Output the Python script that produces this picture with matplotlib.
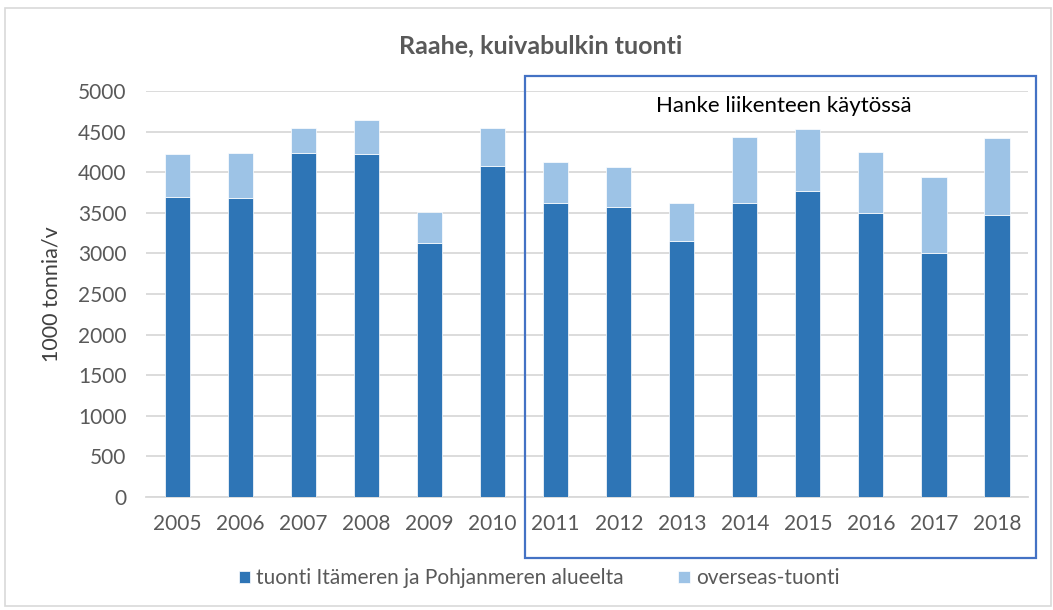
import matplotlib.pyplot as plt
from matplotlib.patches import Rectangle
from matplotlib.transforms import blended_transform_factory

# values (1000 tonnes / year)
years = ['2005', '2006', '2007', '2008', '2009', '2010', '2011',
         '2012', '2013', '2014', '2015', '2016', '2017', '2018']
baltic = [3700, 3680, 4240, 4225, 3125, 4075, 3615,
          3570, 3155, 3615, 3765, 3500, 3005, 3470]
overseas = [525, 560, 300, 415, 385, 475, 505,
            490, 460, 815, 770, 755, 935, 950]

dark = '#2E75B6'
light = '#9DC3E6'
text_col = '#595959'

plt.rcParams['font.family'] = ['Lato', 'DejaVu Sans']

fig = plt.figure(figsize=(10.53, 6.10), dpi=100)
ax = fig.add_axes([0.1387, 0.1852, 0.838, 0.6656])

x = range(len(years))
ax.bar(x, baltic, width=0.4, color=dark, edgecolor='white', linewidth=0.5,
       label='tuonti Itämeren ja Pohjanmeren alueelta', zorder=3)
ax.bar(x, overseas, bottom=baltic, width=0.4, color=light, edgecolor='white',
       linewidth=0.5, label='overseas-tuonti', zorder=3)

ax.set_xlim(-0.5, len(years) - 0.5)
ax.set_ylim(0, 5000)
ax.set_yticks(range(0, 5001, 500))
ax.set_xticks(list(x))
ax.set_xticklabels(years)
ax.yaxis.grid(True, color='#D9D9D9', linewidth=1.3, zorder=0)
ax.tick_params(axis='both', length=0, labelsize=15, colors=text_col)
ax.tick_params(axis='y', pad=14)
ax.tick_params(axis='x', pad=12)
for side in ['top', 'right', 'left']:
    ax.spines[side].set_visible(False)
ax.spines['bottom'].set_color('#D9D9D9')
ax.spines['bottom'].set_linewidth(1.3)

ax.set_ylabel('1000 tonnia/v', fontsize=15.5, color='#404040', labelpad=12)
fig.text(0.513, 0.925, 'Raahe, kuivabulkin tuonti', ha='center', va='center',
         fontsize=18, fontweight='bold', color=text_col)

# box marking the years when the project is in use
trans = blended_transform_factory(ax.transData, fig.transFigure)
ax.add_patch(Rectangle((5.52, 0.085), 8.1, 0.79, transform=trans, fill=False,
                       edgecolor='#4472C4', linewidth=1.6, clip_on=False, zorder=4))
ax.text(9.62, 4810, 'Hanke liikenteen käytössä', ha='center', va='center',
        fontsize=16, color='black', zorder=5)

leg = fig.legend(loc='center', bbox_to_anchor=(0.512, 0.052), ncol=2, frameon=False,
                 fontsize=15, handlelength=0.55, handleheight=0.55,
                 handletextpad=0.3, columnspacing=2.6)
for t in leg.get_texts():
    t.set_color(text_col)

# light outer frame of the chart
fig.patches.append(Rectangle((0.005, 0.006), 0.993, 0.981, transform=fig.transFigure,
                             fill=False, edgecolor='#D9D9D9', linewidth=1.2))

fig.savefig('out.png', dpi=100)
